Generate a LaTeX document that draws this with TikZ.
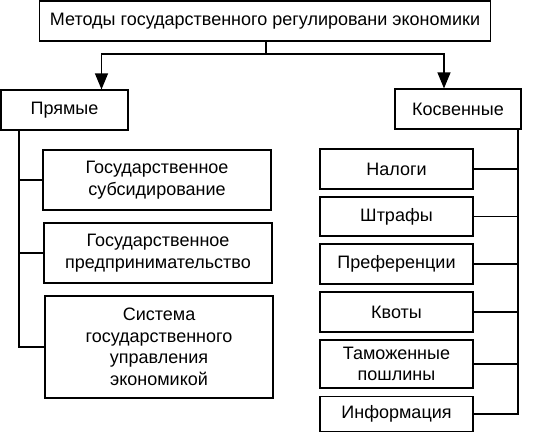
\documentclass[tikz,border=0pt]{standalone}
\usepackage{fontspec}
\setmainfont{Liberation Sans}
\usetikzlibrary{arrows.meta}
\tikzset{
  box/.style={draw, line width=1.2pt, inner sep=0pt, align=center, font=\fontsize{18}{21.5}\selectfont},
  conn/.style={line width=1.2pt},
  arr/.style={line width=1.2pt, -{Triangle[length=16pt,width=13pt]}}
}
\begin{document}
\begin{tikzpicture}[x=1pt,y=-1pt]
\useasboundingbox (0,0) rectangle (541,432);
\fill[white] (0,0) rectangle (541,432);
% top
\node[box, minimum width=451pt, minimum height=40pt] (top) at (265,21) {Методы государственного регулировани экономики};
\node[box, minimum width=127pt, minimum height=40pt] (pr) at (64.5,110) {Прямые};
\node[box, minimum width=126pt, minimum height=40pt] (ko) at (458,109) {Косвенные};
% left boxes
\node[box, minimum width=228pt, minimum height=60pt] (l1) at (157,180) {Государственное\\субсидирование};
\node[box, minimum width=228pt, minimum height=60pt] (l2) at (158,253) {Государственное\\предпринимательство};
\node[box, minimum width=228pt, minimum height=102pt] (l3) at (159,347) {Система\\государственного\\управления\\экономикой};
% right boxes
\node[box, minimum width=153pt, minimum height=40pt] (r1) at (396.5,169) {Налоги};
\node[box, minimum width=153pt, minimum height=39pt] (r2) at (396.5,216.5) {Штрафы};
\node[box, minimum width=153pt, minimum height=40pt] (r3) at (396.5,264) {Преференции};
\node[box, minimum width=153pt, minimum height=40pt] (r4) at (396.5,312) {Квоты};
\node[box, minimum width=153pt, minimum height=48pt] (r5) at (396.5,364) {Таможенные\\пошлины};
\node[box, minimum width=153pt, minimum height=35pt] (r6) at (396.5,414) {Информация};
% top connectors
\coordinate (j) at (266,54);
\draw[conn] (top.south -| j) -- (j);
\draw[arr] (j) -| ([xshift=37pt]pr.north);
\draw[arr] (j) -| ([xshift=-14pt]ko.north);
% left tree
\coordinate (lt) at (19,130);
\draw[conn] (lt) |- (l3.west);
\draw[conn] (l1.west -| lt) -- (l1.west);
\draw[conn] (l2.west -| lt) -- (l2.west);
% right tree
\coordinate (rt) at (518,129);
\draw[conn] (rt) |- (r6.east);
\draw[conn] (r1.east) -- (r1.east -| rt);
\draw[conn] (r2.east) -- (r2.east -| rt);
\draw[conn] (r3.east) -- (r3.east -| rt);
\draw[conn] (r4.east) -- (r4.east -| rt);
\draw[conn] (r5.east) -- (r5.east -| rt);
\end{tikzpicture}
\end{document}
